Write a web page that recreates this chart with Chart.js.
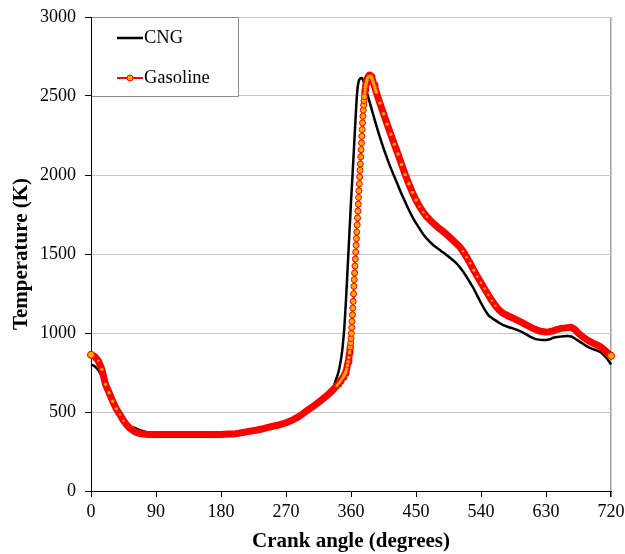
<!DOCTYPE html>
<html>
<head>
<meta charset="utf-8">
<script src="https://cdn.jsdelivr.net/npm/chart.js@4.4.1/dist/chart.umd.min.js"></script>
<style>
  html, body { margin: 0; padding: 0; background: #fff; }
  #wrap { width: 625px; height: 554px; position: relative; }
</style>
</head>
<body>
<div id="wrap"><canvas id="c" width="625" height="554"></canvas></div>
<script>
// Crank angle (degrees)
const angles = [
  0,5,10,15,20,25,30,35,40,45,50,55,60,65,70,75,80,85,90,95,
  100,105,110,115,120,125,130,135,140,145,150,155,160,165,170,175,
  180,185,190,195,200,205,210,215,220,225,230,235,240,245,250,255,
  260,265,270,275,280,285,290,295,300,305,310,315,320,325,330,335,
  340,341,342,343,344,345,346,347,348,349,350,351,352,353,354,355,356,357,
  358,358.5,359,359.5,360,360.5,361,361.5,362,362.5,363,363.5,364,364.5,365,365.5,
  366,366.5,367,367.5,368,368.5,369,369.5,370,370.5,371,371.5,372,372.5,373,373.5,
  374,374.5,375,375.5,376,376.5,377,377.5,378,378.5,379,379.5,380,380.5,381,381.5,382,
  383,384,385,386,387,388,389,390,391,392,393,394,395,
  400,405,410,415,420,425,430,435,440,445,450,455,460,465,470,475,
  480,485,490,495,500,505,510,515,520,525,530,535,540,545,550,555,
  560,565,570,575,580,585,590,595,600,605,610,615,620,625,630,635,
  640,645,650,655,660,665,670,675,680,685,690,695,700,705,710,715,720
];

// Temperature (K) - CNG
const cngTemp = [
  800,790,765,725,672,620,565,520,482,450,424,405,400,390,382,375,368,363,360,358,
  357,357,357,357,357,357,357,357,357,357,357,357,357,357,357,357,
  359,360,361,362,364,367,371,375,379,383,387,392,397,403,409,414,
  419,426,433,442,453,466,480,497,514,530,546,563,582,602,624,650,
  715,728,742,760,780,805,830,860,895,940,990,1050,1125,1205,1290,1380,1470,1560,
  1650,1695,1740,1785,1830,1870,1910,1950,1990,2032,2075,2118,2160,2203,2245,2288,
  2330,2373,2415,2455,2490,2520,2545,2565,2578,2590,2597,2603,2607,2610,2612,2613,
  2614,2614,2613,2611,2608,2603,2598,2592,2585,2578,2570,2563,2555,2547,2538,2530,2522,
  2506,2490,2474,2458,2442,2426,2410,2394,2378,2362,2346,2330,2314,
  2240,2170,2105,2045,1990,1935,1880,1830,1780,1735,1695,1660,1625,1597,1573,1552,
  1535,1518,1502,1484,1465,1445,1420,1390,1355,1318,1280,1235,1190,1150,1115,1095,
  1080,1065,1052,1043,1035,1028,1020,1010,998,985,972,963,958,956,956,960,
  970,974,977,980,981,978,965,950,935,920,908,898,890,880,860,835,800
];

// Temperature (K) - Gasoline
const gasolineTemp = [
  862,852,825,770,676,622,568,520,484,445,415,393,377,367,362,359,358,357,357,357,
  357,357,357,357,357,357,357,357,357,357,357,357,357,357,357,357,
  358,359,360,361,363,366,370,374,378,382,386,391,396,402,408,413,
  418,425,432,441,452,464,478,495,512,528,544,561,579,598,618,640,
  665,671,677,683,689,695,701,707,713,720,728,737,746,757,772,795,818,845,
  875,892,912,937,965,998,1035,1073,1115,1158,1200,1248,1295,1338,1380,1424,
  1468,1512,1555,1598,1640,1684,1728,1772,1815,1858,1900,1944,1988,2030,2070,2115,
  2160,2203,2245,2288,2330,2372,2410,2442,2470,2496,2520,2538,2555,2568,2580,2590,2600,
  2615,2625,2631,2633,2630,2622,2611,2598,2584,2569,2554,2539,2524,
  2455,2388,2322,2258,2195,2133,2067,2003,1945,1890,1842,1800,1765,1736,1712,1690,
  1670,1652,1633,1613,1592,1570,1548,1518,1480,1441,1398,1357,1318,1280,1242,1205,
  1172,1145,1127,1114,1103,1092,1081,1070,1058,1046,1034,1023,1014,1009,1007,1008,
  1014,1022,1028,1031,1034,1036,1022,998,978,962,948,936,926,914,897,876,856
];

const xTicks = [0, 90, 180, 270, 360, 450, 540, 630, 720];
const yTicks = [0, 500, 1000, 1500, 2000, 2500, 3000];
const seriesNames = ['CNG', 'Gasoline'];
const axisTitles = { x: 'Crank angle (degrees)', y: 'Temperature (K)' };

const SERIF = "'Liberation Serif', 'Times New Roman', serif";

// pixel distance travelled per degree around point i (how crowded the markers are)
function crowd(chart, i) {
  const sx = chart.scales.x, sy = chart.scales.y;
  let sum = 0, n = 0;
  [i - 1, i + 1].forEach(j => {
    if (j < 0 || j >= angles.length) return;
    const dx = sx.getPixelForValue(angles[j]) - sx.getPixelForValue(angles[i]);
    const dy = sy.getPixelForValue(gasolineTemp[j]) - sy.getPixelForValue(gasolineTemp[i]);
    sum += Math.hypot(dx, dy) / Math.abs(angles[j] - angles[i]);
    n++;
  });
  return n ? sum / n : 0;
}

const legendBox = {
  id: 'legendBox',
  afterDraw(chart) {
    const ctx = chart.ctx;
    const a = chart.chartArea;
    const L = a.left, T = a.top;
    ctx.save();
    ctx.fillStyle = '#fff';
    ctx.fillRect(L + 1, T, 147, 79);
    ctx.strokeStyle = '#8c8c8c';
    ctx.lineWidth = 1;
    ctx.beginPath();
    ctx.moveTo(L + 1, T + 0.5); ctx.lineTo(L + 147.5, T + 0.5);
    ctx.lineTo(L + 147.5, T + 79.5); ctx.lineTo(L + 1, T + 79.5);
    ctx.stroke();
    // CNG
    ctx.strokeStyle = '#000'; ctx.lineWidth = 2.5;
    ctx.beginPath(); ctx.moveTo(L + 26, T + 21); ctx.lineTo(L + 52, T + 21); ctx.stroke();
    ctx.fillStyle = '#000';
    ctx.font = "18.5px " + SERIF;
    ctx.textBaseline = 'middle';
    ctx.textAlign = 'left';
    ctx.fillText(seriesNames[0], L + 53, T + 21);
    // Gasoline
    ctx.strokeStyle = '#ff0000'; ctx.lineWidth = 2;
    ctx.beginPath(); ctx.moveTo(L + 26, T + 61); ctx.lineTo(L + 52, T + 61); ctx.stroke();
    ctx.beginPath(); ctx.arc(L + 39, T + 61, 3, 0, Math.PI * 2);
    ctx.fillStyle = '#ffaa00'; ctx.fill();
    ctx.lineWidth = 1; ctx.strokeStyle = '#ff0000'; ctx.stroke();
    ctx.fillStyle = '#000';
    ctx.fillText(seriesNames[1], L + 53, T + 61);
    ctx.restore();
  }
};

new Chart(document.getElementById('c'), {
  type: 'line',
  data: {
    datasets: [
      {
        label: seriesNames[1],
        data: angles.map((a, i) => ({ x: a, y: gasolineTemp[i] })),
        borderColor: '#ff0000',
        borderWidth: 2,
        segment: {
          borderWidth: s => {
            const dDeg = Math.abs(angles[s.p1DataIndex] - angles[s.p0DataIndex]) || 1;
            const per = Math.hypot(s.p1.x - s.p0.x, s.p1.y - s.p0.y) / dDeg;
            return per < 7 ? 7 : 2;
          }
        },
        pointRadius: c => {
          const p = crowd(c.chart, c.dataIndex);
          if (c.dataIndex === 0 || c.dataIndex === angles.length - 1) return 3.5;
          return p >= 7 ? 3 : (p >= 1.5 ? 1.7 : (p >= 1.1 ? 1.2 : 0));
        },
        pointBorderWidth: c => {
          const p = crowd(c.chart, c.dataIndex);
          if (c.dataIndex === 0 || c.dataIndex === angles.length - 1) return 1;
          return p >= 7 ? 1 : 0;
        },
        pointBackgroundColor: '#ffaa00',
        pointBorderColor: '#ff0000',
        borderJoinStyle: 'round',
        borderCapStyle: 'round',
        tension: 0,
        clip: 12,
        order: 1
      },
      {
        label: seriesNames[0],
        data: angles.map((a, i) => ({ x: a, y: cngTemp[i] })),
        borderColor: '#000000',
        borderWidth: 2.5,
        pointRadius: 0,
        cubicInterpolationMode: 'monotone',
        clip: 12,
        order: 2
      }
    ]
  },
  options: {
    responsive: false,
    animation: false,
    events: [],
    layout: { padding: { left: 0, right: 14, top: 17, bottom: 0 } },
    plugins: { legend: { display: false }, tooltip: { enabled: false } },
    scales: {
      x: {
        type: 'linear',
        min: 0, max: 720,
        afterBuildTicks: s => { s.ticks = xTicks.map(v => ({ value: v })); },
        afterFit: s => { s.height = 63; s.paddingLeft = 0; s.paddingRight = 0; },
        ticks: {
          font: { family: SERIF, size: 18 },
          color: '#000',
          padding: 4,
          maxRotation: 0,
          autoSkip: false,
          callback: v => String(v)
        },
        grid: {
          color: c => (c.tick && c.tick.value === 720) ? '#a0a0a0' : 'rgba(0,0,0,0)',
          lineWidth: c => (c.tick && c.tick.value === 720) ? 1.5 : 1,
          tickColor: '#000',
          tickLength: 6
        },
        border: { color: '#000', width: 1 },
        title: {
          display: true,
          text: axisTitles.x,
          font: { family: SERIF, size: 21, weight: 'bold' },
          color: '#000',
          padding: { top: 0, bottom: 0 }
        }
      },
      y: {
        min: 0, max: 3000,
        afterBuildTicks: s => { s.ticks = yTicks.map(v => ({ value: v })); },
        afterFit: s => { s.width = 91; s.paddingTop = 0; s.paddingBottom = 0; },
        ticks: {
          font: { family: SERIF, size: 18 },
          color: '#000',
          padding: 9,
          callback: v => String(v)
        },
        grid: {
          color: '#c8c8c8',
          tickColor: '#000',
          tickLength: 6
        },
        border: { color: '#000', width: 1 },
        title: {
          display: true,
          text: axisTitles.y,
          font: { family: SERIF, size: 21, weight: 'bold' },
          color: '#000',
          padding: { top: 9, bottom: 0 }
        }
      }
    }
  },
  plugins: [legendBox]
});
</script>
</body>
</html>
